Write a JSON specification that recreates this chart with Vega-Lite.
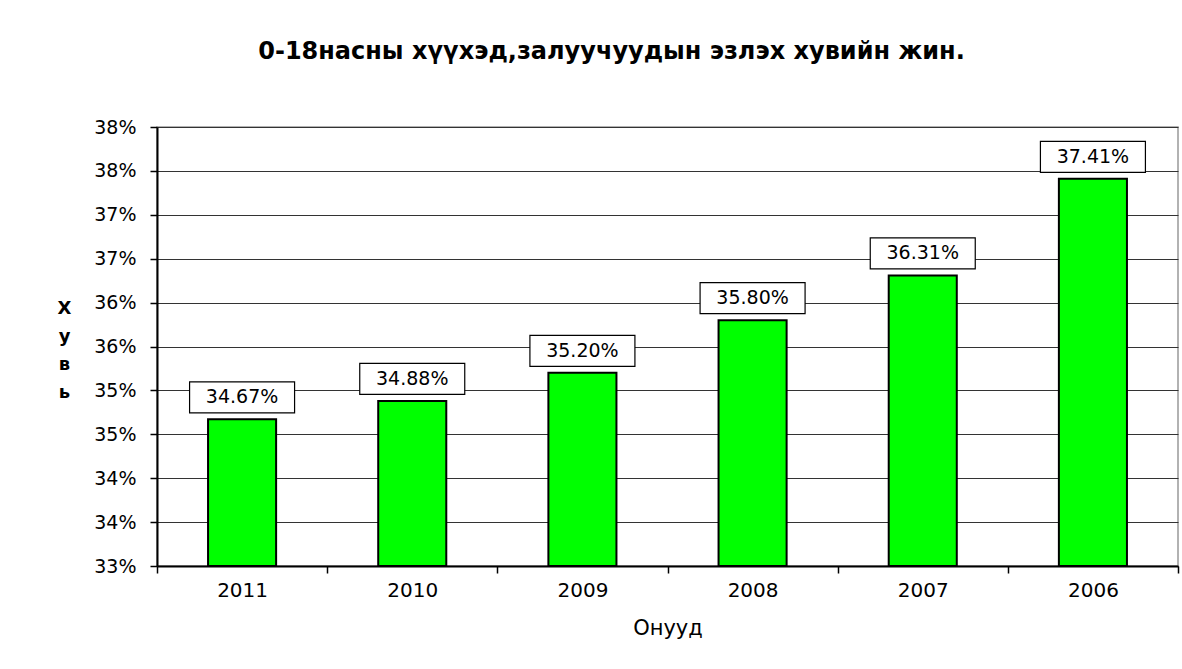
{
  "$schema": "https://vega.github.io/schema/vega-lite/v6.json",
  "autosize": {"type": "none"},
  "width": 1021,
  "height": 439,
  "padding": {"left": 157, "top": 127, "right": 4, "bottom": 103},
  "background": "white",
  "config": {"view": {"stroke": "#999999", "strokeWidth": 1.5}},
  "title": {
    "text": "0-18насны хүүхэд,залуучуудын эзлэх хувийн жин.",
    "font": "DejaVu Sans",
    "fontSize": 24,
    "fontWeight": "bold",
    "color": "black",
    "anchor": "middle",
    "dx": -56,
    "offset": 54
  },
  "data": {
    "values": [
      {"year": "2011", "share": 0.3467},
      {"year": "2010", "share": 0.3488},
      {"year": "2009", "share": 0.3520},
      {"year": "2008", "share": 0.3580},
      {"year": "2007", "share": 0.3631},
      {"year": "2006", "share": 0.3741}
    ]
  },
  "encoding": {
    "x": {
      "field": "year",
      "type": "nominal",
      "sort": null,
      "scale": {"paddingInner": 0, "paddingOuter": 0},
      "axis": {
        "title": "Онууд",
        "labelAngle": 0,
        "tickBand": "extent",
        "tickSize": 7,
        "tickColor": "black",
        "tickWidth": 1.5,
        "domainColor": "black",
        "domainWidth": 2,
        "labelPadding": 7,
        "labelFont": "DejaVu Sans",
        "labelFontSize": 20,
        "labelColor": "black",
        "titleFont": "DejaVu Sans",
        "titleFontSize": 21,
        "titleFontWeight": "normal",
        "titleColor": "black",
        "titleY": 62,
        "titleBaseline": "middle",
        "grid": false
      }
    },
    "y": {
      "field": "share",
      "type": "quantitative",
      "scale": {"domain": [0.33, 0.38], "nice": false, "zero": false},
      "axis": {
        "values": [0.33, 0.335, 0.34, 0.345, 0.35, 0.355, 0.36, 0.365, 0.37, 0.375, 0.38],
        "labelExpr": "round(datum.value * 100 + 0.0001) + '%'",
        "grid": true,
        "gridColor": "#333333",
        "gridWidth": 1.2,
        "domainColor": "black",
        "domainWidth": 2,
        "tickColor": "black",
        "tickWidth": 1.5,
        "tickSize": 7,
        "labelPadding": 14,
        "labelFont": "DejaVu Sans",
        "labelFontSize": 19,
        "labelColor": "black",
        "title": ["Х", "у", "в", "ь"],
        "titleAngle": 0,
        "titleX": -93,
        "titleY": 181,
        "titleAlign": "center",
        "titleBaseline": "middle",
        "titleFont": "DejaVu Sans",
        "titleFontSize": 18,
        "titleFontWeight": "bold",
        "titleColor": "black",
        "titleLineHeight": 28
      }
    }
  },
  "layer": [
    {
      "mark": {"type": "bar", "width": {"band": 0.4}, "fill": "#00FF00", "stroke": "black", "strokeWidth": 2},
      "encoding": {"y2": {"datum": 0.33}}
    },
    {
      "mark": {
        "type": "point",
        "shape": "M-1,-0.295H1V0.295H-1Z",
        "size": 11025,
        "filled": true,
        "fill": "white",
        "stroke": "black",
        "strokeWidth": 1.2,
        "opacity": 1,
        "fillOpacity": 1,
        "yOffset": -22
      }
    },
    {
      "mark": {"type": "text", "font": "DejaVu Sans", "fontSize": 19, "color": "black", "baseline": "middle", "yOffset": -22},
      "encoding": {"text": {"field": "share", "type": "quantitative", "format": ".2%"}}
    }
  ]
}
